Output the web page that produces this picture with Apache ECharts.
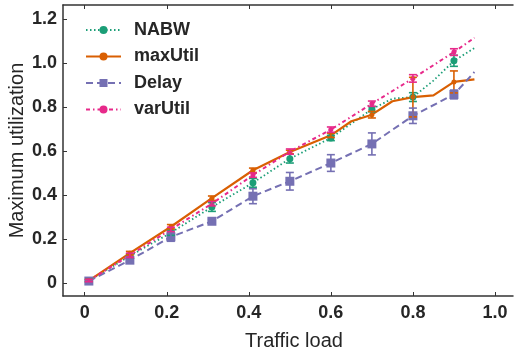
<!DOCTYPE html>
<html>
<head>
<meta charset="utf-8">
<script src="https://cdn.jsdelivr.net/npm/echarts@6/dist/echarts.min.js"></script>
<style>
  html, body { margin: 0; padding: 0; background: #fff; }
  #chart { width: 514px; height: 351px; }
</style>
</head>
<body>
<div id="chart"></div>
<script>
// traffic load at which each marker / error bar sits
const loads = [0.01, 0.11, 0.21, 0.31, 0.41, 0.5, 0.6, 0.7, 0.8, 0.9];

const nabwMean = [0.01, 0.122, 0.228, 0.345, 0.455, 0.565, 0.659, 0.79, 0.845, 1.01];
const nabwErr = [0.005, 0.01, 0.012, 0.02, 0.02, 0.02, 0.012, 0.012, 0.02, 0.025];
const nabwExtra = [[0.75, 0.838], [0.85, 0.92], [0.95, 1.068]];

const maxUtilMean = [0.01, 0.135, 0.255, 0.385, 0.512, 0.595, 0.671, 0.765, 0.845, 0.914];
const maxUtilErr = [0.005, 0.008, 0.01, 0.01, 0.01, 0.008, 0.01, 0.015, 0.09, 0.05];
const maxUtilExtra = [[0.65, 0.735], [0.75, 0.826], [0.85, 0.853], [0.95, 0.926]];

const delayMean = [0.008, 0.103, 0.209, 0.28, 0.394, 0.462, 0.545, 0.632, 0.76, 0.857];
const delayErr = [0.005, 0.01, 0.02, 0.01, 0.034, 0.04, 0.038, 0.05, 0.035, 0.02];
const delayExtra = [[0.95, 0.959]];

const varUtilMean = [0.01, 0.125, 0.243, 0.36, 0.49, 0.597, 0.697, 0.815, 0.93, 1.05];
const varUtilErr = [0.005, 0.01, 0.01, 0.01, 0.01, 0.012, 0.012, 0.012, 0.017, 0.015];
const varUtilExtra = [[0.95, 1.115]];

const xTicks = [0, 0.2, 0.4, 0.6, 0.8, 1.0];
const yTicks = [0, 0.2, 0.4, 0.6, 0.8, 1.0, 1.2];

const textColor = '#262626';
const frameColor = '#333';

// marker points plus the unmarked kinks of each line
function lineData(mean, extra) {
  const pts = loads.map((x, i) => ({ value: [x, mean[i]] }));
  extra.forEach(p => pts.push({ value: p, symbol: 'none' }));
  pts.sort((a, b) => a.value[0] - b.value[0]);
  return pts;
}

function errData(mean, err) {
  return loads.map((x, i) => [x, mean[i], err[i]]);
}

function errorBars(name, color, mean, err) {
  return {
    name: name + ' err',
    type: 'custom',
    data: errData(mean, err),
    z: 3,
    renderItem: (params, api) => {
      const x = api.value(0);
      const y = api.value(1);
      const e = api.value(2);
      const top = api.coord([x, y + e]);
      const bot = api.coord([x, y - e]);
      const w = 4;
      const style = { stroke: color, lineWidth: 1.6 };
      return {
        type: 'group',
        children: [
          { type: 'line', shape: { x1: top[0], y1: top[1], x2: bot[0], y2: bot[1] }, style },
          { type: 'line', shape: { x1: top[0] - w, y1: top[1], x2: top[0] + w, y2: top[1] }, style },
          { type: 'line', shape: { x1: bot[0] - w, y1: bot[1], x2: bot[0] + w, y2: bot[1] }, style }
        ]
      };
    }
  };
}

function lineSeries(name, color, mean, extra, lineType, width, symbol, size) {
  return {
    name,
    type: 'line',
    data: lineData(mean, extra),
    color,
    symbol,
    symbolSize: size,
    z: 2,
    lineStyle: { color, width, type: lineType },
    itemStyle: { color, borderWidth: 0 }
  };
}

const chart = echarts.init(document.getElementById('chart'), null, { renderer: 'canvas' });

const fmt = v => (v === 0 ? '0' : v.toFixed(1));

chart.setOption({
  animation: false,
  textStyle: { fontFamily: 'Liberation Sans, Arial, sans-serif' },
  grid: { left: 63, right: 1, top: 5, bottom: 55, outerBoundsMode: 'none', containLabel: false },
  legend: {
    orient: 'vertical',
    left: 80,
    top: 15,
    itemWidth: 35,
    itemHeight: 10,
    itemGap: 6.5,
    data: ['NABW', 'maxUtil', 'Delay', 'varUtil'],
    textStyle: {
      fontSize: 18,
      fontWeight: 'bold',
      color: textColor,
      padding: [0, 0, 0, 8],
      lineHeight: 20
    }
  },
  xAxis: [
    {
      type: 'value',
      min: -0.053,
      max: 1.044,
      name: 'Traffic load',
      nameLocation: 'middle',
      nameGap: 35,
      nameMoveOverlap: false,
      nameTextStyle: { fontSize: 20, color: textColor, padding: [0, 0, 0, 12] },
      splitLine: { show: false },
      axisLine: { show: true, onZero: false, lineStyle: { color: frameColor, width: 1.5 } },
      axisTick: { inside: true, length: 4, customValues: xTicks, lineStyle: { color: frameColor } },
      axisLabel: {
        customValues: xTicks,
        formatter: fmt,
        fontSize: 18,
        fontWeight: 'bold',
        color: textColor,
        margin: 8
      }
    },
    {
      type: 'value',
      position: 'top',
      min: -0.053,
      max: 1.044,
      splitLine: { show: false },
      axisLine: { show: true, onZero: false, lineStyle: { color: frameColor, width: 1.5 } },
      axisTick: { show: true, inside: true, length: 4, customValues: xTicks, lineStyle: { color: frameColor } },
      axisLabel: { show: false, customValues: xTicks }
    }
  ],
  yAxis: {
    type: 'value',
    min: -0.06,
    max: 1.264,
    name: 'Maximum utilization',
    nameLocation: 'middle',
    nameGap: 36,
    nameMoveOverlap: false,
    nameTextStyle: { fontSize: 20, color: textColor },
    splitLine: { show: false },
    axisLine: { show: true, onZero: false, lineStyle: { color: frameColor, width: 1.5 } },
    axisTick: { inside: true, length: 4, customValues: yTicks, lineStyle: { color: frameColor } },
    axisLabel: {
      customValues: yTicks,
      formatter: fmt,
      fontSize: 18,
      fontWeight: 'bold',
      color: textColor,
      margin: 6
    }
  },
  series: [
    lineSeries('NABW', '#1b9e77', nabwMean, nabwExtra, [1.5, 2.5], 1.8, 'circle', 7),
    lineSeries('maxUtil', '#d95f02', maxUtilMean, maxUtilExtra, 'solid', 2.2, 'circle', 5),
    lineSeries('Delay', '#7570b3', delayMean, delayExtra, [7, 4], 2, 'rect', 9),
    lineSeries('varUtil', '#e7298a', varUtilMean, varUtilExtra, [4, 3, 1.5, 3], 2, 'circle', 5),
    errorBars('NABW', '#1b9e77', nabwMean, nabwErr),
    errorBars('maxUtil', '#d95f02', maxUtilMean, maxUtilErr),
    errorBars('Delay', '#7570b3', delayMean, delayErr),
    errorBars('varUtil', '#e7298a', varUtilMean, varUtilErr)
  ]
});
</script>
</body>
</html>
